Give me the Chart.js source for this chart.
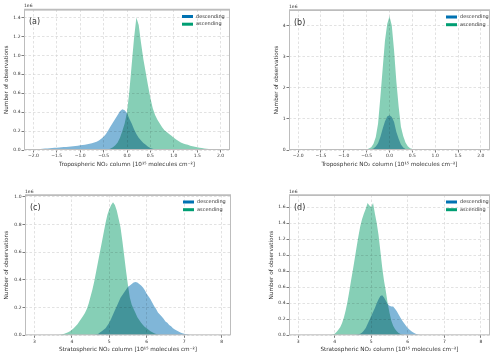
<!DOCTYPE html>
<html>
<head>
<meta charset="utf-8">
<script src="https://cdn.jsdelivr.net/npm/chart.js@4.4.1/dist/chart.umd.min.js"></script>
<style>
  html, body { margin: 0; padding: 0; background: #fff; }
  #wrap { position: relative; width: 500px; height: 359px; }
  canvas { position: absolute; }
</style>
</head>
<body>
<div id="wrap">
  <canvas id="panelA" width="250" height="180" style="left:0;top:0"></canvas>
  <canvas id="panelB" width="250" height="180" style="left:250px;top:0"></canvas>
  <canvas id="panelC" width="250" height="179" style="left:0;top:180px"></canvas>
  <canvas id="panelD" width="250" height="179" style="left:250px;top:180px"></canvas>
</div>
<script>
/* ============================
   DATA (counts in units of 1e6)
============================ */

const seriesNames = ["descending", "ascending"];

// (a) tropospheric, bin centres
const binsA = [-2.0,-1.95,-1.9,-1.85,-1.8,-1.75,-1.7,-1.65,-1.6,-1.55,-1.5,-1.45,-1.4,-1.35,-1.3,-1.25,-1.2,-1.15,-1.1,-1.05,
  -1.0,-0.95,-0.9,-0.85,-0.8,-0.75,-0.7,-0.65,-0.6,-0.55,-0.5,-0.45,-0.4,-0.35,-0.3,-0.25,-0.2,-0.15,-0.1,-0.05,
  0.0,0.05,0.1,0.15,0.2,0.25,0.3,0.35,0.4,0.45,0.5,0.55,0.6,0.65,0.7,0.75,0.8,0.85,0.9,0.95,
  1.0,1.05,1.1,1.15,1.2,1.25,1.3,1.35,1.4,1.45,1.5,1.55,1.6,1.65,1.7,1.75,1.8,1.85,1.9,1.95,2.0];
const descA = [0.006,0.008,0.009,0.011,0.013,0.015,0.017,0.019,0.021,0.023,0.025,0.027,0.029,0.031,0.033,0.035,0.037,0.040,0.043,0.046,
  0.049,0.052,0.056,0.060,0.065,0.071,0.078,0.088,0.10,0.12,0.14,0.17,0.21,0.25,0.29,0.33,0.37,0.41,0.43,0.42,
  0.39,0.33,0.28,0.22,0.17,0.13,0.10,0.075,0.055,0.035,0.02,0.012,0.006,0.003,0.001,0,0,0,0,0,
  0,0,0,0,0,0,0,0,0,0,0,0,0,0,0,0,0,0,0,0,0];
const ascA = [0,0,0,0,0,0,0,0,0,0,0,0,0,0,0,0,0,0,0,0,
  0,0,0,0,0,0,0,0,0,0,0,0.002,0.006,0.015,0.03,0.05,0.08,0.13,0.20,0.28,
  0.40,0.62,0.90,1.18,1.40,1.32,1.13,0.96,0.82,0.68,0.55,0.44,0.37,0.32,0.28,0.24,0.21,0.19,0.17,0.15,
  0.13,0.11,0.095,0.08,0.07,0.06,0.055,0.045,0.04,0.035,0.03,0.025,0.02,0.016,0.013,0.01,0.008,0.006,0.005,0.004,0.003];

// (b) tropospheric
const binsB = [-0.6,-0.55,-0.5,-0.45,-0.4,-0.35,-0.3,-0.25,-0.2,-0.15,-0.1,-0.05,0.0,0.05,0.1,0.15,0.2,0.25,0.3,0.35,0.4,0.45,0.5,0.55,0.6];
const descB = [0,0.002,0.005,0.01,0.025,0.05,0.11,0.22,0.42,0.68,0.92,1.08,1.12,1.06,0.90,0.58,0.36,0.18,0.08,0.035,0.015,0.006,0.002,0,0];
const ascB = [0.005,0.01,0.02,0.05,0.09,0.20,0.42,0.85,1.7,2.6,3.5,4.05,4.3,4.0,3.2,2.2,1.4,0.75,0.45,0.24,0.12,0.06,0.03,0.015,0.008];

// (c) stratospheric
const binsC = [3.6,3.65,3.7,3.75,3.8,3.85,3.9,3.95,4.0,4.05,4.1,4.15,4.2,4.25,4.3,4.35,4.4,4.45,4.5,4.55,
  4.6,4.65,4.7,4.75,4.8,4.85,4.9,4.95,5.0,5.05,5.1,5.15,5.2,5.25,5.3,5.35,5.4,5.45,5.5,5.55,
  5.6,5.65,5.7,5.75,5.8,5.85,5.9,5.95,6.0,6.05,6.1,6.15,6.2,6.25,6.3,6.35,6.4,6.45,6.5,6.55,
  6.6,6.65,6.7,6.75,6.8,6.85,6.9,6.95,7.0,7.05,7.1,7.15,7.2,7.25,7.3];
const descC = [0,0,0,0,0,0,0,0,0,0,0,0,0,0,0,0,0,0,0,0,
  0.003,0.005,0.01,0.02,0.03,0.04,0.05,0.07,0.09,0.12,0.15,0.18,0.21,0.24,0.27,0.29,0.31,0.33,0.35,0.36,
  0.37,0.38,0.385,0.38,0.37,0.36,0.345,0.325,0.30,0.28,0.26,0.235,0.21,0.19,0.165,0.15,0.135,0.12,0.10,0.09,
  0.075,0.065,0.05,0.042,0.035,0.027,0.02,0.015,0.011,0.008,0.005,0.003,0.002,0.001,0];
const ascC = [0.001,0.002,0.004,0.007,0.011,0.016,0.022,0.03,0.04,0.05,0.065,0.08,0.10,0.12,0.14,0.16,0.19,0.23,0.28,0.33,
  0.39,0.46,0.53,0.60,0.67,0.74,0.81,0.87,0.91,0.94,0.96,0.94,0.90,0.84,0.78,0.68,0.57,0.46,0.36,0.27,
  0.22,0.19,0.16,0.13,0.11,0.09,0.075,0.06,0.05,0.04,0.03,0.022,0.015,0.01,0.006,0.003,0.001,0,0,0,
  0,0,0,0,0,0,0,0,0,0,0,0,0,0,0];

// (d) stratospheric
const binsD = [3.85,3.9,3.95,4.0,4.05,4.1,4.15,4.2,4.25,4.3,4.35,4.4,4.45,4.5,4.55,4.6,4.65,4.7,4.75,4.8,
  4.85,4.9,4.95,5.0,5.05,5.1,5.15,5.2,5.25,5.3,5.35,5.4,5.45,5.5,5.55,5.6,5.65,5.7,5.75,5.8,
  5.85,5.9,5.95,6.0,6.05,6.1,6.15,6.2,6.25,6.3,6.35];
const descD = [0,0,0,0,0,0,0,0,0,0,0,0,0,0.002,0.004,0.008,0.013,0.02,0.035,0.06,
  0.09,0.14,0.19,0.24,0.29,0.34,0.40,0.45,0.49,0.50,0.47,0.43,0.39,0.37,0.36,0.36,0.33,0.30,0.26,0.22,
  0.18,0.15,0.12,0.09,0.07,0.05,0.035,0.022,0.014,0.007,0.003];
const ascD = [0.002,0.005,0.01,0.02,0.04,0.07,0.10,0.15,0.22,0.31,0.42,0.55,0.69,0.82,0.96,1.10,1.24,1.36,1.45,1.52,
  1.58,1.65,1.62,1.60,1.65,1.52,1.40,1.25,1.05,0.85,0.68,0.55,0.40,0.28,0.18,0.12,0.08,0.05,0.03,0.015,
  0.007,0.003,0,0,0,0,0,0,0,0,0];

const tropTitle = "Tropospheric NO\u2082 column [10\u00b9\u2075 molecules cm\u207b\u00b2]";
const stratTitle = "Stratospheric NO\u2082 column [10\u00b9\u2075 molecules cm\u207b\u00b2]";

/* ============================
   STYLE
============================ */

const FONT = '"DejaVu Sans", sans-serif';
const fillDesc = "rgb(128, 182, 216)";
const fillAsc = "rgb(134, 207, 182)";
const patchDesc = "rgb(0, 114, 178)";
const patchAsc = "rgb(0, 158, 115)";

function fmt(v, dec) {
    return v.toFixed(dec).replace("-", "\u2212");
}

// overlapping histograms are blended like translucent bars
const blend = {
    id: "blend",
    beforeDatasetsDraw(chart) {
        chart.ctx.save();
        chart.ctx.globalCompositeOperation = "multiply";
    },
    afterDatasetsDraw(chart) {
        chart.ctx.restore();
    }
};

// frame, offset text, panel letter and legend
const decor = {
    id: "decor",
    afterDraw(chart, args, opts) {
        const { ctx, chartArea: a } = chart;
        ctx.save();
        ctx.strokeStyle = "#bdbdbd";
        ctx.lineWidth = 1;
        ctx.strokeRect(a.left + 0.5, a.top + 0.5, a.right - a.left - 1, a.bottom - a.top - 1);
        ctx.lineWidth = 1.5;
        ctx.beginPath();
        ctx.moveTo(a.left, a.top);
        ctx.lineTo(a.right, a.top);
        ctx.stroke();

        ctx.fillStyle = "#333";
        ctx.font = "4.5px " + FONT;
        ctx.textBaseline = "bottom";
        ctx.fillText("1e6", a.left, a.top - 1);

        ctx.font = "8px " + FONT;
        ctx.textBaseline = "middle";
        ctx.fillText(opts.letter, a.left + 5, a.top + 12.5);

        ctx.font = "5px " + FONT;
        const lx = a.right - opts.legendRight;
        chart.data.datasets.forEach((ds, i) => {
            const cy = a.top + 7 + i * 7.7;
            ctx.fillStyle = ds.legendColor;
            ctx.fillRect(lx, cy - 1.5, 11, 3);
            ctx.fillStyle = "#333";
            ctx.fillText(ds.label, lx + 14, cy);
        });
        ctx.restore();
    }
};

function serie(label, bins, values, fill, patch) {
    return {
        label: label,
        data: bins.map((x, i) => ({ x: x, y: values[i] })),
        fill: "origin",
        tension: 0,
        backgroundColor: fill,
        borderColor: fill,
        borderWidth: 0,
        pointRadius: 0,
        legendColor: patch
    };
}

function gerarPainel(id, p) {
    const cv = document.getElementById(id);
    const W = cv.width, H = cv.height;
    const xAxisH = 20;

    new Chart(cv.getContext("2d"), {
        type: "line",
        data: {
            datasets: [
                serie(seriesNames[0], p.bins, p.desc, fillDesc, patchDesc),
                serie(seriesNames[1], p.bins, p.asc, fillAsc, patchAsc)
            ]
        },
        options: {
            responsive: false,
            animation: false,
            events: [],
            layout: {
                padding: {
                    left: p.padLeft,
                    right: W - p.area.right,
                    top: p.area.top,
                    bottom: H - p.area.bottom - xAxisH
                }
            },
            plugins: {
                legend: { display: false },
                tooltip: { enabled: false },
                decor: { letter: p.letter, legendRight: p.legendRight }
            },
            scales: {
                x: {
                    type: "linear",
                    min: p.xMin,
                    max: p.xMax,
                    afterFit: (s) => { s.height = xAxisH; },
                    ticks: {
                        stepSize: p.xStep,
                        includeBounds: false,
                        padding: 1,
                        color: "#333",
                        font: { family: FONT, size: 4.5 },
                        maxRotation: 0,
                        autoSkip: false,
                        callback: (v) => fmt(v, p.xDec)
                    },
                    grid: {
                        color: "#d6d6d6",
                        lineWidth: 0.7,
                        tickLength: 2.5,
                        tickColor: "#444",
                        tickWidth: 0.7
                    },
                    border: { display: false, dash: [2.5, 2] },
                    title: {
                        display: true,
                        text: p.xTitle,
                        color: "#333",
                        font: { family: FONT, size: 5.7 },
                        padding: { top: 0, bottom: 2 }
                    }
                },
                y: {
                    min: 0,
                    max: p.yMax,
                    afterFit: (s) => { s.width = p.area.left - p.padLeft; },
                    ticks: {
                        stepSize: p.yStep,
                        includeBounds: false,
                        padding: 1,
                        color: "#333",
                        font: { family: FONT, size: 4.5 },
                        callback: (v) => fmt(v, p.yDec)
                    },
                    grid: {
                        color: "#d6d6d6",
                        lineWidth: 0.7,
                        tickLength: 2.5,
                        tickColor: "#444",
                        tickWidth: 0.7
                    },
                    border: { display: false, dash: [2.5, 2] },
                    title: {
                        display: true,
                        text: "Number of observations",
                        color: "#333",
                        font: { family: FONT, size: 5.7 },
                        padding: { top: 3.4, bottom: 0 }
                    }
                }
            }
        },
        plugins: [blend, decor]
    });
}

gerarPainel("panelA", {
    bins: binsA, desc: descA, asc: ascA, letter: "(a)", xTitle: tropTitle,
    xMin: -2.2, xMax: 2.2, xStep: 0.5, xDec: 1, yMax: 1.485, yStep: 0.2, yDec: 1,
    padLeft: 0, area: { left: 24, right: 230, top: 9.5, bottom: 150 }, legendRight: 48
});
gerarPainel("panelB", {
    bins: binsB, desc: descB, asc: ascB, letter: "(b)", xTitle: tropTitle,
    xMin: -2.2, xMax: 2.2, xStep: 0.5, xDec: 1, yMax: 4.5, yStep: 1, yDec: 0,
    padLeft: 20, area: { left: 39, right: 240, top: 10, bottom: 150 }, legendRight: 44
});
gerarPainel("panelC", {
    bins: binsC, desc: descC, asc: ascC, letter: "(c)", xTitle: stratTitle,
    xMin: 2.75, xMax: 8.25, xStep: 1, xDec: 0, yMax: 1.012, yStep: 0.2, yDec: 1,
    padLeft: 0, area: { left: 25, right: 231, top: 15, bottom: 155.3 }, legendRight: 48
});
gerarPainel("panelD", {
    bins: binsD, desc: descD, asc: ascD, letter: "(d)", xTitle: stratTitle,
    xMin: 2.75, xMax: 8.25, xStep: 1, xDec: 0, yMax: 1.75, yStep: 0.2, yDec: 1,
    padLeft: 15, area: { left: 39, right: 240, top: 15, bottom: 155.3 }, legendRight: 44
});
</script>
</body>
</html>
